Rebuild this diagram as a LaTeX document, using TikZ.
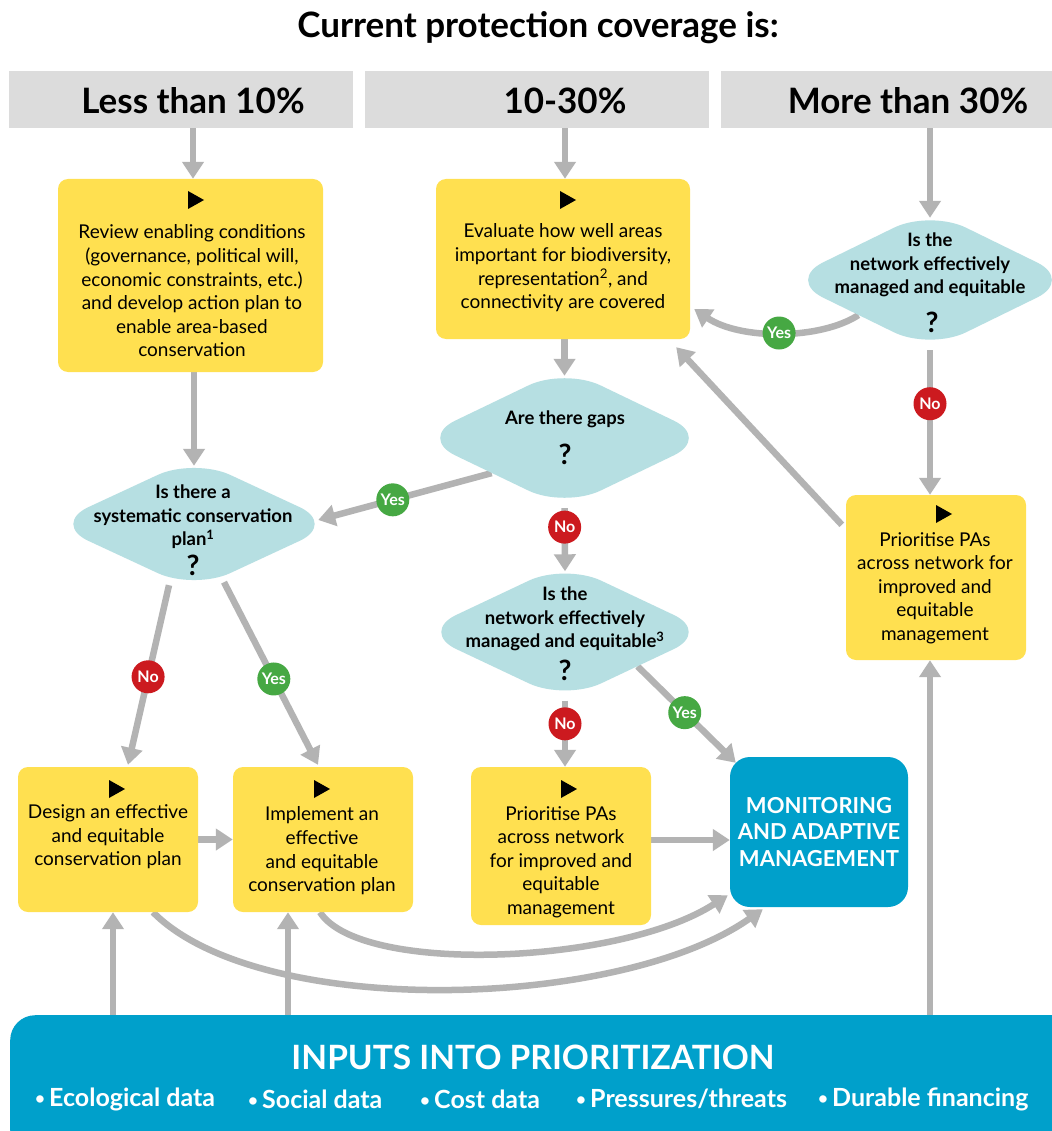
\documentclass[tikz,border=0pt]{standalone}
\usepackage{fontspec}
\setmainfont{Lato}
\usetikzlibrary{arrows.meta,shapes.geometric,calc}
\definecolor{ylw}{HTML}{FFE050}
\definecolor{diacol}{HTML}{B6DFE2}
\definecolor{arrgray}{HTML}{B3B3B3}
\definecolor{hdrgray}{HTML}{DCDCDC}
\definecolor{bluebox}{HTML}{00A0CB}
\definecolor{yesgreen}{HTML}{46A843}
\definecolor{nored}{HTML}{CC1A1F}
\pgfdeclarelayer{bg}
\pgfdeclarelayer{paper}
\pgfsetlayers{paper,bg,main}
\newcommand\playtri[2]{\fill (#1-7,#2-9) -- (#1+9,#2) -- (#1-7,#2+9) -- cycle;}
\newcommand\smallbul{\raisebox{2pt}{\fontsize{17}{17}\selectfont\textbullet}\,}
\tikzset{
  ybox/.style={fill=ylw, rounded corners=10pt, inner sep=0pt},
  dia/.style={diamond, fill=diacol, rounded corners=40pt, inner sep=0pt},
  hdrbox/.style={fill=hdrgray, inner sep=0pt},
  arr/.style={draw=arrgray, line width=6.5pt, -{Triangle[length=17pt,width=21pt]}},
  yesb/.style={circle, fill=yesgreen, text=white, font=\bfseries\fontsize{16}{16}\selectfont, inner sep=0pt, minimum size=33pt},
  nob/.style={circle, fill=nored, text=white, font=\bfseries\fontsize{16}{16}\selectfont, inner sep=0pt, minimum size=33pt},
  btxt/.style={align=center, font=\fontsize{19}{23.6}\selectfont, inner sep=0pt},
  dtxt/.style={align=center, font=\bfseries\fontsize{18.5}{23.5}\selectfont, inner sep=0pt},
  qm/.style={font=\bfseries\fontsize{28}{28}\selectfont, inner sep=0pt},
  hdrtxt/.style={font=\bfseries\fontsize{35}{35}\selectfont, inner sep=0pt},
  bullet/.style={anchor=west, text=white, font=\bfseries\fontsize{25}{25}\selectfont, inner sep=0pt},
}
\begin{document}
\begin{tikzpicture}[x=1pt,y=-1pt]
\useasboundingbox (0,0) rectangle (1051,1131);
\begin{pgfonlayer}{paper}
\fill[white] (0,0) rectangle (1051,1131);
\end{pgfonlayer}

% title
\node[font=\bfseries\fontsize{35}{40}\selectfont, inner sep=0pt] (title) at (538,28) {Current protection coverage is:};

% headers
\node[hdrbox, minimum width=344pt, minimum height=57pt] (h1) at (181,99.5) {};
\node[hdrbox, minimum width=344pt, minimum height=57pt] (h2) at (537,99.5) {};
\node[hdrbox, minimum width=344pt, minimum height=57pt] (h3) at (893,99.5) {};
\node[hdrtxt] (h1t) at (193,101) {Less than 10\%};
\node[hdrtxt] (h2t) at (565,101) {10-30\%};
\node[hdrtxt] (h3t) at (908,101) {More than 30\%};

% yellow boxes
\node[ybox, minimum width=265pt, minimum height=193pt] (A) at (190.5,275.5) {};
\node[ybox, minimum width=254pt, minimum height=160pt] (B) at (563,259) {};
\node[ybox, minimum width=180pt, minimum height=165pt] (C) at (936,577.5) {};
\node[ybox, minimum width=180pt, minimum height=145pt] (E) at (108,839.5) {};
\node[ybox, minimum width=180pt, minimum height=145pt] (F) at (323,839.5) {};
\node[ybox, minimum width=180pt, minimum height=158pt] (D) at (561,846) {};
\node[fill=bluebox, rounded corners=20pt, minimum width=178pt, minimum height=150pt, inner sep=0pt] (Mon) at (819,832) {};

% diamonds
\node[dia, minimum width=286pt, minimum height=140pt] (R) at (930,280) {};
\node[dia, minimum width=291pt, minimum height=140pt] (M1) at (564.5,438) {};
\node[dia, minimum width=290pt, minimum height=137pt] (M2) at (565,632) {};
\node[dia, minimum width=284pt, minimum height=132pt] (L) at (194,524) {};

% bottom bar
\node[fill=bluebox, rounded corners=25pt, minimum width=1070pt, minimum height=140pt, inner sep=0pt, anchor=north west] (bar) at (10,1015) {};

% box texts
\playtri{195}{200}
\node[btxt] (At) at (192,291) {Review enabling conditions\\(governance, political will,\\economic constraints, etc.)\\and develop action plan to\\enable area-based\\conservation};
\playtri{567}{200}
\node[btxt] (Bt) at (563,268) {Evaluate how well areas\\important for biodiversity,\\representation\textsuperscript{2}, and\\connectivity are covered};
\playtri{943}{514}
\node[btxt] (Ct) at (935,588) {Prioritise PAs\\across network for\\improved and\\equitable\\management};
\playtri{116}{789}
\node[btxt] (Et) at (108,837) {Design an effective\\and equitable\\conservation plan};
\playtri{321}{789}
\node[btxt] (Ft) at (322,851) {Implement an\\effective\\and equitable\\conservation plan};
\playtri{568}{789}
\node[btxt] (Dt) at (561,862) {Prioritise PAs\\across network\\for improved and\\equitable\\management};
\node[align=center, text=white, font=\bfseries\fontsize{22}{26.5}\selectfont, inner sep=0pt] (Mont) at (819,832) {MONITORING\\AND ADAPTIVE\\MANAGEMENT};

% diamond texts
\node[dtxt] (Rt) at (930,265) {Is the\\network effectively\\managed and equitable};
\node[qm] (Rq) at (932,322) {?};
\node[dtxt] (M1t) at (565,419) {Are there gaps};
\node[qm] (M1q) at (565,454) {?};
\node[dtxt] (M2t) at (565,619) {Is the\\network effectively\\managed and equitable\textsuperscript{3}};
\node[qm] (M2q) at (565,670) {?};
\node[dtxt] (Lt) at (193,517) {Is there a\\systematic conservation\\plan\textsuperscript{1}};
\node[qm] (Lq) at (193,565) {?};

% bottom texts
\node[text=white, font=\bfseries\fontsize{33.5}{33.5}\selectfont, inner sep=0pt] (bart) at (533,1057) {INPUTS INTO PRIORITIZATION};
\node[bullet] (b1) at (35,1099) {\smallbul Ecological data};
\node[bullet] (b2) at (248,1099) {\smallbul Social data};
\node[bullet] (b3) at (420,1099) {\smallbul Cost data};
\node[bullet] (b4) at (576,1099) {\smallbul Pressures/threats};
\node[bullet] (b5) at (818,1099) {\smallbul Durable financing};

% connectors
\begin{pgfonlayer}{bg}
\draw[arr] (h1.south -| h1t) -- (A.north -| h1t);
\draw[arr] (h2.south -| h2t) -- (B.north -| h2t);
\draw[arr] (h3.south -| R.north) -- ($(R.north)+(0,8)$);
\draw[arr] (R.south) -- (C.north -| R.south) node[nob, pos=0.37] (no1) {No};
\draw[arr] (R.south west) .. controls (820,340) and (740,340) .. ($(B.east)+(4,50)$) node[yesb, pos=0.5] (yes1) {Yes};
\draw[arr] ($(C.north west)+(-4,30)$) -- ($(B.south east)+(-14,8)$);
\draw[arr] (bar.north -| R.south) -- (C.south -| R.south);
\draw[arr] (B.south -| M1.north) -- ($(M1.north)+(0,8)$);
\draw[arr] (M1.south west) -- ($(L.east)+(-18,-4)$) node[yesb, pos=0.57] (yes2) {Yes};
\draw[arr] (M1.south) -- ($(M2.north)+(0,8)$) node[nob, pos=0.3] (no2) {No};
\draw[arr] (M2.south) -- (M2.south |- D.north) node[nob, pos=0.35] (no3) {No};
\draw[arr] (M2.south east) -- ($(Mon.north west)+(6,6)$) node[yesb, pos=0.48] (yes3) {Yes};
\draw[arr] (A.south -| L.north) -- ($(L.north)+(0,8)$);
\draw[arr] ($(L.south)+(-25,-5)$) -- ($(E.north)+(20,-2)$) node[nob, pos=0.51] (no4) {No};
\draw[arr] ($(L.south)+(30,-8)$) -- ($(F.north)+(-5,-2)$) node[yesb, pos=0.53] (yes4) {Yes};
\draw[arr] (E.east) -- (F.west);
\draw[arr] ($(D.east)+(0,-6)$) -- ($(Mon.west)+(0,8)$);
\draw[arr] ($(E.south)+(45,0)$) .. controls (260,1020) and (620,1010) .. ($(Mon.south west)+(33,2)$);
\draw[arr] ($(F.south)+(-3,0)$) .. controls (360,975) and (620,965) .. ($(Mon.south west)+(-2,-12)$);
\draw[arr] (bar.north -| 113,0) -- (E.south -| 113,0);
\draw[arr] (bar.north -| 288,0) -- (F.south -| 288,0);
\end{pgfonlayer}
\end{tikzpicture}
\end{document}
